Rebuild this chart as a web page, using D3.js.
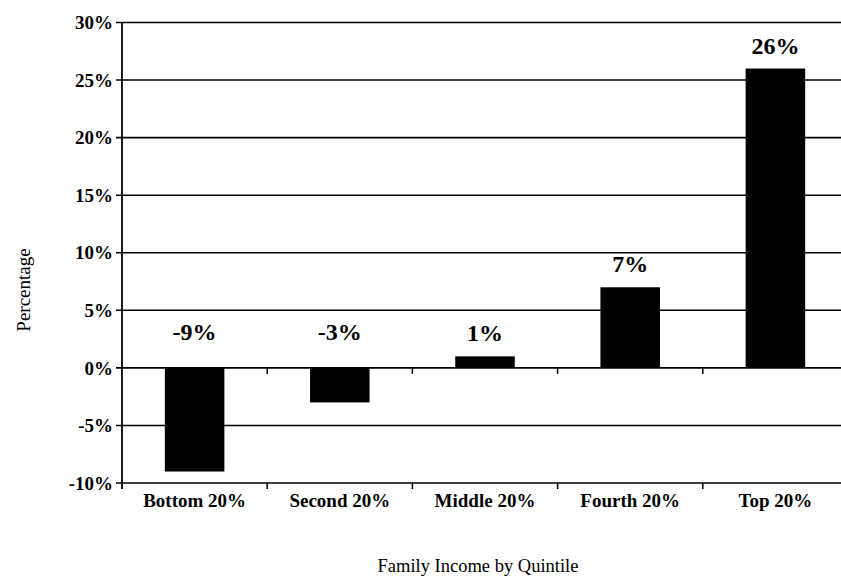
<!DOCTYPE html>
<html>
<head>
<meta charset="utf-8">
<script src="https://cdn.jsdelivr.net/npm/d3@7"></script>
<style>
  body { margin: 0; background: #fff; }
  svg { display: block; font-family: "Liberation Serif", "Times New Roman", serif; }
</style>
</head>
<body>
<div id="chart"></div>
<script>
// data
var categories  = ['Bottom 20%', 'Second 20%', 'Middle 20%', 'Fourth 20%', 'Top 20%'];
var values      = [-9, -3, 1, 7, 26];
var value_text  = ['-9%', '-3%', '1%', '7%', '26%'];
var y_ticks     = [-10, -5, 0, 5, 10, 15, 20, 25, 30];

var chart_width  = 841;
var chart_height = 578;
var svg = d3.select('#chart')
    .append('svg')
    .attr('width', chart_width)
    .attr('height', chart_height);

// plot runs a bit past the right edge, like the scan
var x_scale = d3.scaleBand()
    .domain(categories)
    .range([122, 848]);

var y_scale = d3.scaleLinear()
    .domain([-10, 30])
    .range([483, 22.5]);

var bar_w = x_scale.bandwidth() * 0.41;

// gridlines
svg.selectAll('.grid')
    .data(y_ticks)
    .enter()
    .append('line')
    .attr('x1', 116)
    .attr('x2', 848)
    .attr('y1', function(d){ return y_scale(d); })
    .attr('y2', function(d){ return y_scale(d); })
    .attr('stroke', '#000')
    .attr('stroke-width', 1.6);

// y axis line
svg.append('line')
    .attr('x1', 122).attr('x2', 122)
    .attr('y1', y_scale(30)).attr('y2', y_scale(-10) + 6)
    .attr('stroke', '#000')
    .attr('stroke-width', 1.8);

// y tick labels
svg.selectAll('.ytick')
    .data(y_ticks)
    .enter()
    .append('text')
    .text(function(d){ return d + '%'; })
    .attr('x', 113)
    .attr('y', function(d){ return y_scale(d); })
    .attr('dy', '0.35em')
    .attr('text-anchor', 'end')
    .attr('font-size', 19)
    .attr('font-weight', 'bold');

// category boundary ticks on the zero line and on the bottom line
var bounds = categories.slice(1).map(function(c){ return x_scale(c); });
[0, -10].forEach(function(v){
    svg.selectAll(null)
        .data(bounds)
        .enter()
        .append('line')
        .attr('x1', function(d){ return d; })
        .attr('x2', function(d){ return d; })
        .attr('y1', y_scale(v))
        .attr('y2', y_scale(v) + 6)
        .attr('stroke', '#000')
        .attr('stroke-width', 1.5);
});

// bars
svg.selectAll('rect')
    .data(values)
    .enter()
    .append('rect')
    .attr('x', function(d, i){ return x_scale(categories[i]) + (x_scale.bandwidth() - bar_w) / 2; })
    .attr('y', function(d){ return y_scale(Math.max(0, d)); })
    .attr('width', bar_w)
    .attr('height', function(d){ return Math.abs(y_scale(d) - y_scale(0)); })
    .attr('fill', '#000');

// value labels: above the bar top, or above the zero line for negatives
svg.selectAll('.val')
    .data(values)
    .enter()
    .append('text')
    .text(function(d, i){ return value_text[i]; })
    .attr('x', function(d, i){ return x_scale(categories[i]) + x_scale.bandwidth() / 2; })
    .attr('y', function(d){ return d > 0 ? y_scale(d) - 15 : y_scale(0) - 28; })
    .attr('text-anchor', 'middle')
    .attr('font-size', 24)
    .attr('font-weight', 'bold');

// category labels
svg.selectAll('.cat')
    .data(categories)
    .enter()
    .append('text')
    .text(function(d){ return d; })
    .attr('x', function(d){ return x_scale(d) + x_scale.bandwidth() / 2; })
    .attr('y', 507)
    .attr('text-anchor', 'middle')
    .attr('font-size', 19)
    .attr('font-weight', 'bold');

// axis titles
svg.append('text')
    .text('Family Income by Quintile')
    .attr('x', 478)
    .attr('y', 572)
    .attr('text-anchor', 'middle')
    .attr('font-size', 18.5);

svg.append('text')
    .text('Percentage')
    .attr('transform', 'translate(30,290) rotate(-90)')
    .attr('text-anchor', 'middle')
    .attr('font-size', 19);
</script>
</body>
</html>
